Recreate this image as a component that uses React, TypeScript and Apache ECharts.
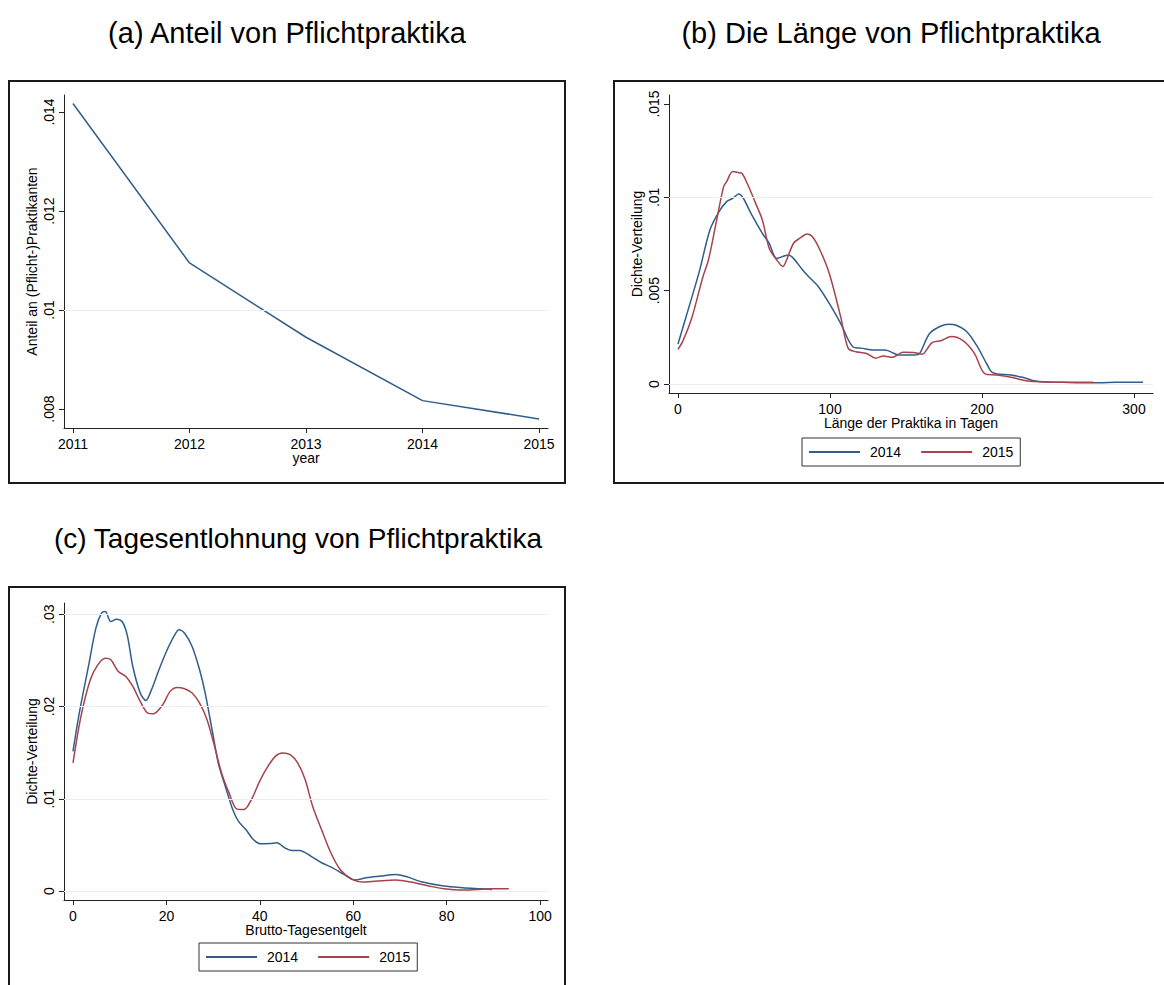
import React, { useEffect, useRef } from "react";
import * as echarts from "echarts";

// ---------- data ----------
const years = [2011, 2012, 2013, 2014, 2015];
const shareValues = [0.01417, 0.01095, 0.00945, 0.00817, 0.0078];
const shareYTicks = [0.008, 0.01, 0.012, 0.014];

const lenX2014 = [0, 6.6, 14, 21, 27, 32, 36, 40, 43, 48, 55.5, 60, 65, 72.6, 76, 82, 86, 92, 99.5, 107, 115, 121.5, 129, 136, 146, 156, 159, 165.5, 173, 178, 182.6, 190, 197, 203, 207, 219, 226.6, 234, 244, 253.5, 266, 278, 288, 297.5, 306];
const lenY2014 = [0.00214, 0.00396, 0.00602, 0.00825, 0.00923, 0.00977, 0.00995, 0.01018, 0.00995, 0.00914, 0.00807, 0.00754, 0.00673, 0.00691, 0.00673, 0.00611, 0.00575, 0.00525, 0.00432, 0.00325, 0.002, 0.00191, 0.00182, 0.00182, 0.00155, 0.00155, 0.00164, 0.00271, 0.00311, 0.0032, 0.00316, 0.0028, 0.002, 0.0011, 0.00061, 0.00048, 0.00036, 0.00018, 0.00011, 0.00009, 0.00007, 0.00007, 0.0001, 0.0001, 0.00009];
const lenX2015 = [0, 3, 9, 16.4, 20, 25, 30, 32, 36, 40, 42, 46, 50.6, 55.5, 60, 65, 69, 71.4, 76, 80, 85, 88.5, 93.4, 99.5, 107, 112, 117, 124, 130, 135, 141, 148, 156, 160.6, 167, 173, 180, 187.5, 195, 202, 209.5, 219, 229, 241, 253.5, 263, 273];
const lenY2015 = [0.00186, 0.00227, 0.00352, 0.00575, 0.00664, 0.0086, 0.01057, 0.01084, 0.01138, 0.01132, 0.01129, 0.01066, 0.00977, 0.00879, 0.00727, 0.00664, 0.00629, 0.00664, 0.00754, 0.0078, 0.00804, 0.00789, 0.00718, 0.00593, 0.00361, 0.00191, 0.00173, 0.00164, 0.00138, 0.0015, 0.00143, 0.0017, 0.00168, 0.00159, 0.00221, 0.00232, 0.00254, 0.00232, 0.00164, 0.00054, 0.00048, 0.00036, 0.00018, 0.00011, 0.0001, 0.0001, 0.00009];
const lenXTicks = [0, 100, 200, 300];
const lenYTicks = [0, 0.005, 0.01, 0.015];

const wageX2014 = [0, 1.35, 3.3, 4.9, 6.1, 6.9, 8.1, 9.3, 10.5, 11.6, 12.8, 14.4, 15.6, 16.8, 18.4, 20, 21.6, 22.7, 23.9, 25.5, 27.1, 28.3, 29.9, 31.1, 32.6, 34.2, 35.4, 37, 38.6, 40.2, 42.2, 43.7, 45.3, 46.9, 48.5, 50.9, 53.2, 55.6, 58, 60.4, 62.8, 65.9, 69.1, 71.5, 74.6, 79.4, 83.4, 87.3, 89.7];
const wageY2014 = [0.01515, 0.0193, 0.02434, 0.02849, 0.03011, 0.03029, 0.02921, 0.02946, 0.02921, 0.02777, 0.02434, 0.02146, 0.02066, 0.02182, 0.02398, 0.02596, 0.02759, 0.02831, 0.02795, 0.0265, 0.02398, 0.02146, 0.01713, 0.01388, 0.01136, 0.00883, 0.00757, 0.00667, 0.00559, 0.00512, 0.00516, 0.00523, 0.00469, 0.0044, 0.0044, 0.00379, 0.00307, 0.00252, 0.0018, 0.00119, 0.00144, 0.00162, 0.0018, 0.00155, 0.00101, 0.00054, 0.00036, 0.00025, 0.00018];
const wageX2015 = [0, 1.7, 3.7, 5.3, 6.9, 8.1, 9.7, 11.3, 12.8, 14.4, 16, 17.2, 19.2, 20.8, 22.3, 23.9, 25.5, 27.1, 28.7, 30.3, 31.8, 33.4, 35, 36.6, 38.2, 39.8, 41.3, 43.3, 44.9, 46.5, 48.1, 49.7, 51.3, 53.2, 55.2, 57.2, 59.6, 62, 65.1, 69.1, 72.3, 76.2, 79.4, 83.4, 86.5, 89.7, 93.3];
const wageY2015 = [0.01388, 0.01893, 0.0229, 0.02452, 0.02524, 0.02506, 0.0238, 0.02326, 0.02218, 0.02055, 0.01929, 0.01922, 0.02019, 0.02164, 0.02207, 0.02192, 0.02146, 0.02037, 0.01857, 0.01569, 0.0128, 0.01064, 0.00891, 0.00883, 0.00992, 0.01172, 0.01316, 0.0146, 0.01497, 0.01478, 0.01388, 0.01208, 0.0092, 0.00667, 0.00415, 0.00234, 0.00133, 0.00097, 0.00108, 0.00119, 0.00097, 0.00054, 0.00025, 0.00011, 0.00018, 0.00025, 0.00025];
const wageXTicks = [0, 20, 40, 60, 80, 100];
const wageYTicks = [0, 0.01, 0.02, 0.03];

const legendNames = ["2014", "2015"];

// ---------- styles ----------
const FONT = "'Liberation Sans', Arial, Helvetica, sans-serif";
const AXIS_COLOR = "#222";
const GRID_COLOR = "#e8eef4";
const BLUE = "#315d8a";
const RED = "#a6434c";

const zip = (xs: number[], ys: number[]) => xs.map((x, i) => [x, ys[i]]);
const fmtY = (v: number) => {
  if (v === 0) return "0";
  return String(+v.toFixed(4)).replace(/^0\./, ".");
};

function xAxisDef(gridIndex: number, min: number, max: number, ticks: number[], name: string) {
  return {
    type: "value",
    gridIndex,
    min,
    max,
    name,
    nameLocation: "middle",
    nameGap: 23,
    nameMoveOverlap: false,
    nameTextStyle: { fontFamily: FONT, fontSize: 14, color: "#000" },
    axisLine: { show: true, onZero: false, lineStyle: { color: AXIS_COLOR, width: 1 } },
    axisTick: { show: true, inside: false, length: 5, customValues: ticks, lineStyle: { color: AXIS_COLOR, width: 1 } },
    axisLabel: { show: true, margin: 9, customValues: ticks, formatter: (v: number) => String(v), fontFamily: FONT, fontSize: 14, color: "#000" },
    splitLine: { show: false },
  };
}

function yAxisDef(gridIndex: number, min: number, max: number, ticks: number[], name: string) {
  return {
    type: "value",
    gridIndex,
    min,
    max,
    name,
    nameLocation: "middle",
    nameRotate: 90,
    nameGap: 25,
    nameMoveOverlap: false,
    nameTextStyle: { fontFamily: FONT, fontSize: 14, color: "#000" },
    axisLine: { show: true, onZero: false, lineStyle: { color: AXIS_COLOR, width: 1 } },
    axisTick: { show: true, inside: false, length: 5, customValues: ticks, lineStyle: { color: AXIS_COLOR, width: 1 } },
    axisLabel: { show: true, rotate: 90, margin: 8, customValues: ticks, formatter: (v: number) => fmtY(v), fontFamily: FONT, fontSize: 14, color: "#000" },
    splitLine: { show: false },
  };
}

function gridLines(name: string, idx: number, ticks: number[]) {
  return {
    name,
    type: "line",
    xAxisIndex: idx,
    yAxisIndex: idx,
    data: [],
    z: 1,
    silent: true,
    markLine: {
      silent: true,
      symbol: ["none", "none"],
      label: { show: false },
      lineStyle: { type: "solid", color: GRID_COLOR, width: 1 },
      data: ticks.map((v) => ({ yAxis: v })),
    },
  };
}

function curve(name: string, idx: number, data: number[][], color: string) {
  return {
    name,
    type: "line",
    xAxisIndex: idx,
    yAxisIndex: idx,
    data,
    symbol: "none",
    showSymbol: false,
    smooth: 0.3,
    z: 3,
    lineStyle: { color, width: 1.5 },
    itemStyle: { color },
  };
}

function legendDef(left: number, top: number) {
  return {
    data: legendNames,
    left,
    top,
    orient: "horizontal",
    itemWidth: 51,
    itemHeight: 14,
    itemGap: 19,
    padding: [7, 7, 7, 6],
    borderColor: "#333",
    borderWidth: 1,
    selectedMode: false,
    itemStyle: { opacity: 0 },
    textStyle: { fontFamily: FONT, fontSize: 14, color: "#000", padding: [0, 0, 0, 5] },
  };
}

function titleText(x: number, y: number, text: string, size: number) {
  return {
    type: "text",
    x,
    y,
    silent: true,
    style: { text, fontFamily: FONT, fontSize: size, fill: "#000", align: "center", verticalAlign: "middle" },
  };
}

function frame(x: number, y: number, w: number, h: number) {
  return {
    type: "rect",
    shape: { x, y, width: w, height: h },
    silent: true,
    z: -1,
    style: { fill: "none", stroke: "#1a1a1a", lineWidth: 2 },
  };
}

export default function App() {
  const ref = useRef<HTMLDivElement>(null);
  useEffect(() => {
    if (!ref.current) return;
    const chart = echarts.init(ref.current, null, { renderer: "svg" });
    const option: any = {
      animation: false,
      backgroundColor: "#fff",
      textStyle: { fontFamily: FONT },
      grid: [
        { left: 64, top: 95, width: 484, height: 333, outerBoundsMode: "none" },
        { left: 669, top: 95, width: 484, height: 298, outerBoundsMode: "none" },
        { left: 64, top: 603, width: 484, height: 297, outerBoundsMode: "none" },
      ],
      xAxis: [
        xAxisDef(0, 2010.923, 2015.077, years, "year"),
        xAxisDef(1, -5.92, 312.5, lenXTicks, "Länge der Praktika in Tagen"),
        xAxisDef(2, -1.93, 101.7, wageXTicks, "Brutto-Tagesentgelt"),
      ],
      yAxis: [
        yAxisDef(0, 0.007617, 0.014343, shareYTicks, "Anteil an (Pflicht-)Praktikanten"),
        yAxisDef(1, -0.00048, 0.01548, lenYTicks, "Dichte-Verteilung"),
        yAxisDef(2, -0.00097, 0.03122, wageYTicks, "Dichte-Verteilung"),
      ],
      legend: [legendDef(802, 438), legendDef(199, 943)],
      graphic: [
        frame(9, 81, 556, 402),
        frame(614, 81, 560, 402),
        frame(9, 587, 556, 410),
        titleText(287, 33, "(a) Anteil von Pflichtpraktika", 29),
        titleText(891, 33, "(b) Die Länge von Pflichtpraktika", 29),
        titleText(298, 538, "(c) Tagesentlohnung von Pflichtpraktika", 28),
      ],
      series: [
        gridLines("gridA", 0, shareYTicks),
        gridLines("gridB", 1, lenYTicks),
        gridLines("gridC", 2, wageYTicks),
        {
          ...curve("Anteil", 0, zip(years, shareValues), BLUE),
          smooth: false,
        },
        curve("2014", 1, zip(lenX2014, lenY2014), BLUE),
        curve("2015", 1, zip(lenX2015, lenY2015), RED),
        curve("2014", 2, zip(wageX2014, wageY2014), BLUE),
        curve("2015", 2, zip(wageX2015, wageY2015), RED),
      ],
    };
    chart.setOption(option);
    return () => chart.dispose();
  }, []);
  return <div ref={ref} style={{ position: "fixed", left: 0, top: 0, width: 1164, height: 985 }} />;
}
